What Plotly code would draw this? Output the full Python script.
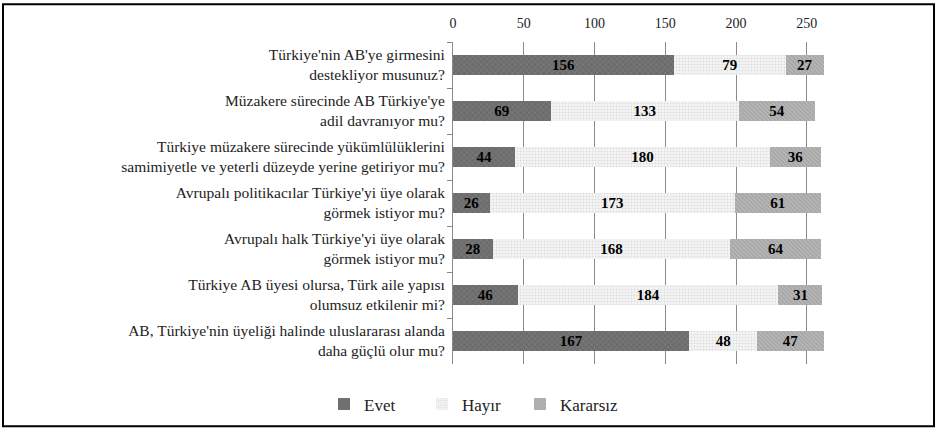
import plotly.graph_objects as go

categories = [
    "Türkiye'nin AB'ye girmesini<br>destekliyor musunuz?",
    "Müzakere sürecinde AB Türkiye'ye<br>adil davranıyor mu?",
    "Türkiye müzakere sürecinde yükümlülüklerini<br>samimiyetle ve yeterli düzeyde yerine getiriyor mu?",
    "Avrupalı politikacılar Türkiye'yi üye olarak<br>görmek istiyor mu?",
    "Avrupalı halk Türkiye'yi üye olarak<br>görmek istiyor mu?",
    "Türkiye AB üyesi olursa, Türk aile yapısı<br>olumsuz etkilenir mi?",
    "AB, Türkiye'nin üyeliği halinde uluslararası alanda<br>daha güçlü olur mu?",
]
evet = [156, 69, 44, 26, 28, 46, 167]
hayir = [79, 133, 180, 173, 168, 184, 48]
kararsiz = [27, 54, 36, 61, 64, 31, 47]
series_names = ["Evet", "Hayır", "Kararsız"]
tick_vals = [0, 50, 100, 150, 200, 250]

FONT = "Liberation Serif"

styles = [
    dict(bg="#6c6c6c", fg="#8a8a8a", shape="x", size=4, sol=0.35),
    dict(bg="#f6f6f6", fg="#c4c4c4", shape=".", size=3, sol=0.35),
    dict(bg="#a6a6a6", fg="#d0d0d0", shape="\\", size=3, sol=0.4),
]

fig = go.Figure()
for name, vals, st in zip(series_names, [evet, hayir, kararsiz], styles):
    fig.add_trace(go.Bar(
        y=categories, x=vals, name=name, orientation="h",
        marker=dict(color=st["bg"], line=dict(width=0),
                    pattern=dict(shape=st["shape"], fgcolor=st["fg"], bgcolor=st["bg"],
                                 size=st["size"], solidity=st["sol"])),
        text=[str(v) for v in vals], textposition="inside", insidetextanchor="middle",
        textangle=0, constraintext="none",
        textfont=dict(family=FONT, size=15, color="black", weight="bold"),
        width=0.42,
    ))

fig.update_layout(
    barmode="stack",
    width=937, height=435,
    margin=dict(l=453, r=109, t=42, b=66),
    paper_bgcolor="white", plot_bgcolor="white",
    font=dict(family=FONT, size=15, color="#222"),
    xaxis=dict(side="top", range=[0, 265], tickvals=tick_vals, showgrid=True,
               gridcolor="#8a8a8a", gridwidth=1, zeroline=False, showline=False,
               tickfont=dict(family=FONT, size=14, color="#222"), ticks="",
               ticklabelstandoff=10),
    yaxis=dict(autorange="reversed", showline=True, linecolor="#8a8a8a", linewidth=1,
               ticks="outside", tickson="boundaries", ticklen=5, tickcolor="#8a8a8a",
               tickfont=dict(family=FONT, size=15.5, color="#222"), showgrid=False,
               ticklabelstandoff=4),
    legend=dict(orientation="h", x=-0.344, xanchor="left", y=-0.126, yanchor="middle",
                font=dict(family=FONT, size=17, color="#222"), traceorder="normal",
                entrywidth=53, entrywidthmode="pixels"),
    showlegend=True,
)

fig.add_shape(type="rect", xref="paper", yref="paper",
              x0=-1.2, x1=1.2827, y0=-0.1934, y1=1.1173,
              line=dict(color="black", width=2), fillcolor="rgba(0,0,0,0)")

fig.write_html("out.html", post_script="document.body.style.margin='0';",
               config={"displayModeBar": False})
